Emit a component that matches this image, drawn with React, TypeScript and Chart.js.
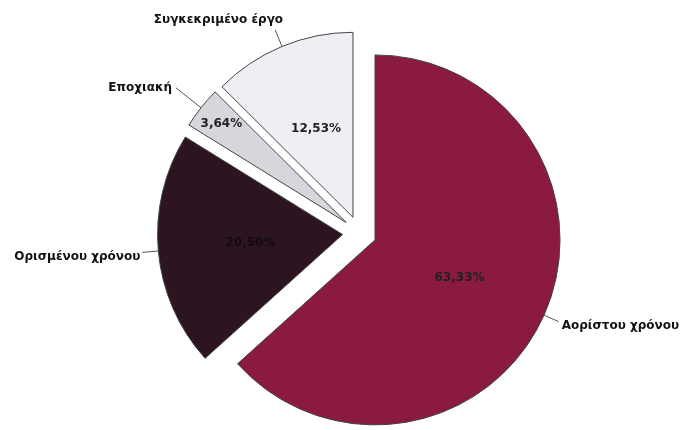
import React, { useEffect, useRef } from "react";
import { Chart, registerables, ArcElement, PieController } from "chart.js";

Chart.register(...registerables);

const categories = ["Αορίστου χρόνου", "Ορισμένου χρόνου", "Εποχιακή", "Συγκεκριμένο έργο"];
const shares = [63.33, 20.5, 3.64, 12.53];
const valueLabels = ["63,33%", "20,50%", "3,64%", "12,53%"];

const sliceColors = ["#8a1a42", "#2c1420", "#d6d6dc", "#eeeef5"];
const valueLabelRadius = [0.5, 0.5, 0.86, 0.52];
const leaderLength = [16, 16, 32, 18];
const nameOffsetX = [3, -2, -4, 8];
const nameOffsetY = [4, 4, 0, -9.5];

class ExplodedArc extends ArcElement {
  static id = "explodedArc";
  static defaults = { ...(ArcElement as any).defaults, explode: 0 };
  draw(ctx: CanvasRenderingContext2D) {
    const opts: any = (this as any).options;
    const e = opts.explode || 0;
    const self: any = this;
    const half = (self.startAngle + self.endAngle) / 2;
    ctx.save();
    ctx.translate(Math.cos(half) * e, Math.sin(half) * e);
    super.draw(ctx);
    ctx.restore();
  }
}

class ExplodedPieController extends PieController {
  static id = "explodedPie";
  static defaults = { dataElementType: "explodedArc" };
}

Chart.register(ExplodedArc as any, ExplodedPieController as any);

const labelPlugin = {
  id: "sliceLabels",
  afterDatasetsDraw(chart: any) {
    const ctx: CanvasRenderingContext2D = chart.ctx;
    const meta = chart.getDatasetMeta(0);
    ctx.save();
    ctx.font = "bold 12px 'DejaVu Sans', sans-serif";
    meta.data.forEach((arc: any, i: number) => {
      const e = arc.options.explode || 0;
      const half = (arc.startAngle + arc.endAngle) / 2;
      const dx = Math.cos(half);
      const dy = Math.sin(half);
      const ax = arc.x + dx * e;
      const ay = arc.y + dy * e;
      const r = arc.outerRadius;
      // value label
      ctx.fillStyle = i === 1 ? "#140a0e" : "#222";
      ctx.textAlign = "center";
      ctx.textBaseline = "middle";
      ctx.fillText(valueLabels[i], ax + dx * r * valueLabelRadius[i], ay + dy * r * valueLabelRadius[i]);
      // leader
      const px = ax + dx * r;
      const py = ay + dy * r;
      const qx = px + dx * leaderLength[i];
      const qy = py + dy * leaderLength[i];
      ctx.strokeStyle = "#555";
      ctx.lineWidth = 1;
      ctx.beginPath();
      ctx.moveTo(px, py);
      ctx.lineTo(qx, qy);
      ctx.stroke();
      ctx.fillStyle = "#111";
      ctx.textAlign = dx >= 0 ? "left" : "right";
      ctx.fillText(categories[i], qx + nameOffsetX[i], qy + nameOffsetY[i]);
    });
    ctx.restore();
  },
};

export default function App() {
  const ref = useRef<HTMLCanvasElement | null>(null);
  useEffect(() => {
    if (!ref.current) return;
    const chart = new Chart(ref.current, {
      type: "explodedPie" as any,
      data: {
        labels: categories,
        datasets: [
          {
            data: shares,
            backgroundColor: sliceColors,
            borderColor: "#444",
            borderWidth: 1,
            explode: 17,
          } as any,
        ],
      },
      options: {
        animation: false,
        responsive: true,
        maintainAspectRatio: false,
        radius: 185,
        layout: { padding: { left: 30, right: 0, top: 36, bottom: 0 } },
        plugins: { legend: { display: false }, tooltip: { enabled: false } },
      } as any,
      plugins: [labelPlugin],
    });
    return () => chart.destroy();
  }, []);
  return (
    <div style={{ position: "fixed", left: 0, top: 0, width: 689, height: 430, background: "#fff" }}>
      <canvas ref={ref} />
    </div>
  );
}
